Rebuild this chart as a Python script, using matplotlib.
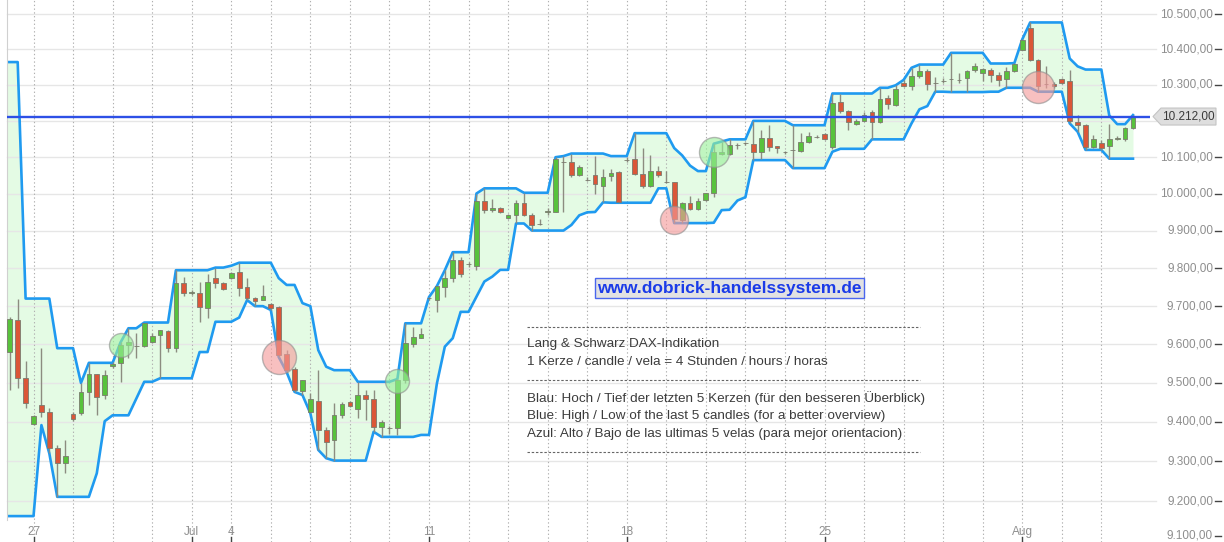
import matplotlib
matplotlib.use("Agg")
import matplotlib.pyplot as plt
import numpy as np
from matplotlib import transforms
from matplotlib.lines import Line2D
from matplotlib.patches import Polygon

# ---------------- data (4-hour candles, L&S DAX indication) ----------------
candle_open = [9581, 9664, 9512, 9394, 9443, 9425, 9333, 9295, 9420, 9422,
               9477, 9522, 9469, 9544, 9551, 9598, 9596, 9596, 9607, 9624,
               9636, 9590, 9760, 9735, 9734, 9696, 9774, 9760, 9774, 9789,
               9751, 9721, 9716, 9705, 9697, 9575, 9535, 9480, 9425, 9454,
               9379, 9354, 9418, 9450, 9432, 9469, 9459, 9388, 9384, 9384,
               9508, 9600, 9616, 9721, 9716, 9751, 9774, 9822, 9811, 9807,
               9981, 9956, 9961, 9934, 9944, 9974, 9943, 9919, 9950, 9951,
               10086, 10087, 10051, 10039, 10051, 10022, 10048, 10060, 10093, 10096,
               10053, 10021, 10063, 10033, 10031, 9929, 9976, 9959, 9983, 10003,
               10108, 10110, 10133, 10138, 10136, 10113, 10154, 10131, 10113, 10120,
               10118, 10143, 10156, 10163, 10127, 10252, 10226, 10191, 10200, 10225,
               10196, 10263, 10244, 10305, 10297, 10325, 10340, 10306, 10311, 10316,
               10315, 10318, 10341, 10332, 10341, 10327, 10316, 10340, 10399, 10459,
               10371, 10302, 10303, 10316, 10310, 10198, 10188, 10129, 10138, 10131,
               10149, 10149, 10180]
candle_high = [9671, 9718, 9557, 9418, 9590, 9435, 9341, 9354, 9425, 9500,
               9551, 9523, 9533, 9554, 9605, 9642, 9630, 9657, 9630, 9637,
               9638, 9795, 9778, 9742, 9765, 9784, 9802, 9765, 9791, 9815,
               9774, 9724, 9756, 9708, 9700, 9585, 9542, 9508, 9473, 9533,
               9388, 9448, 9452, 9453, 9503, 9482, 9482, 9405, 9390, 9510,
               9655, 9646, 9642, 9724, 9753, 9795, 9843, 9831, 9817, 10001,
               10015, 9986, 9964, 9946, 9983, 10003, 9949, 9933, 9962, 10100,
               10103, 10110, 10078, 10045, 10103, 10069, 10069, 10063, 10100, 10166,
               10125, 10105, 10077, 10062, 10033, 9978, 9994, 9988, 10003, 10137,
               10143, 10149, 10140, 10141, 10200, 10176, 10188, 10131, 10116, 10188,
               10166, 10170, 10161, 10166, 10276, 10276, 10230, 10205, 10224, 10230,
               10292, 10272, 10299, 10314, 10348, 10357, 10345, 10323, 10318, 10390,
               10332, 10341, 10360, 10347, 10346, 10336, 10350, 10361, 10428, 10476,
               10374, 10352, 10308, 10320, 10343, 10215, 10191, 10160, 10146, 10190,
               10158, 10184, 10216]
candle_low = [9482, 9486, 9435, 9392, 9412, 9320, 9211, 9270, 9402, 9417,
              9443, 9417, 9460, 9539, 9503, 9564, 9564, 9593, 9604, 9512,
              9581, 9580, 9727, 9729, 9659, 9670, 9749, 9743, 9772, 9727,
              9716, 9700, 9716, 9690, 9567, 9528, 9477, 9469, 9422, 9329,
              9308, 9302, 9409, 9438, 9409, 9405, 9375, 9362, 9370, 9367,
              9499, 9594, 9616, 9716, 9685, 9725, 9765, 9778, 9803, 9796,
              9947, 9951, 9947, 9931, 9920, 9941, 9901, 9916, 9942, 9950,
              9951, 10046, 10048, 10034, 9999, 9977, 10035, 9976, 10087, 10051,
              10015, 10019, 10046, 10030, 9921, 9922, 9956, 9957, 9982, 9991,
              10106, 10106, 10122, 10133, 10092, 10094, 10118, 10112, 10108, 10070,
              10115, 10140, 10152, 10146, 10123, 10221, 10175, 10189, 10200, 10149,
              10193, 10232, 10241, 10295, 10286, 10319, 10286, 10281, 10305, 10280,
              10304, 10281, 10336, 10311, 10308, 10297, 10292, 10336, 10397, 10367,
              10281, 10290, 10292, 10302, 10193, 10170, 10120, 10125, 10120, 10096,
              10147, 10145, 10177]
candle_close = [9665, 9512, 9448, 9415, 9425, 9333, 9297, 9314, 9407, 9477,
                9522, 9465, 9520, 9548, 9598, 9606, 9597, 9655, 9622, 9637,
                9591, 9760, 9734, 9736, 9699, 9763, 9760, 9745, 9787, 9749,
                9721, 9714, 9727, 9694, 9572, 9533, 9482, 9507, 9460, 9379,
                9350, 9418, 9446, 9442, 9469, 9459, 9388, 9399, 9384, 9508,
                9604, 9618, 9626, 9721, 9753, 9774, 9822, 9785, 9811, 9981,
                9957, 9961, 9950, 9943, 9974, 9944, 9917, 9919, 9954, 10096,
                10086, 10051, 10072, 10039, 10026, 10046, 10058, 9979, 10093, 10053,
                10021, 10062, 10051, 10033, 9932, 9976, 9959, 9981, 10003, 10115,
                10115, 10133, 10133, 10138, 10113, 10154, 10129, 10126, 10113, 10120,
                10143, 10158, 10156, 10149, 10249, 10226, 10196, 10200, 10216, 10196,
                10260, 10246, 10288, 10297, 10325, 10340, 10302, 10306, 10311, 10316,
                10315, 10338, 10353, 10344, 10327, 10315, 10338, 10359, 10427, 10371,
                10297, 10302, 10297, 10306, 10199, 10188, 10129, 10151, 10125, 10149,
                10153, 10180, 10212]

# blue channel: high / low of the last 5 candles (first value belongs to the candle before index 0)
band_high = [10364, 10364, 10364, 9720, 9720, 9720, 9720, 9590, 9590, 9590, 9500,
             9552, 9552, 9552, 9552, 9605, 9642, 9642, 9657, 9657, 9657,
             9657, 9795, 9795, 9795, 9795, 9795, 9802, 9802, 9807, 9815,
             9815, 9815, 9815, 9815, 9774, 9756, 9756, 9708, 9700, 9585,
             9542, 9533, 9533, 9533, 9503, 9503, 9503, 9503, 9503, 9510,
             9655, 9655, 9655, 9724, 9753, 9795, 9843, 9843, 9843, 10001,
             10015, 10015, 10015, 10015, 10015, 10003, 10003, 10003, 10003, 10100,
             10103, 10110, 10110, 10110, 10110, 10110, 10103, 10103, 10103, 10166,
             10166, 10166, 10166, 10166, 10125, 10105, 10077, 10062, 10062, 10137,
             10143, 10149, 10149, 10149, 10200, 10200, 10200, 10200, 10200, 10188,
             10188, 10188, 10188, 10188, 10276, 10276, 10276, 10276, 10276, 10276,
             10292, 10292, 10299, 10314, 10348, 10357, 10357, 10357, 10357, 10390,
             10390, 10390, 10390, 10390, 10360, 10360, 10360, 10361, 10428, 10476,
             10476, 10476, 10476, 10476, 10374, 10352, 10343, 10343, 10343, 10215,
             10191, 10191, 10216]
band_low = [9163, 9163, 9163, 9163, 9163, 9392, 9320, 9211, 9211, 9211, 9211,
            9211, 9270, 9402, 9417, 9417, 9417, 9460, 9503, 9503, 9512,
            9512, 9512, 9512, 9512, 9580, 9580, 9659, 9659, 9659, 9670,
            9716, 9700, 9700, 9690, 9567, 9528, 9477, 9469, 9422, 9329,
            9308, 9302, 9302, 9302, 9302, 9302, 9375, 9362, 9362, 9362,
            9362, 9362, 9367, 9367, 9499, 9594, 9616, 9685, 9685, 9725,
            9765, 9778, 9796, 9796, 9920, 9920, 9901, 9901, 9901, 9901,
            9901, 9916, 9942, 9950, 9951, 9977, 9976, 9976, 9976, 9976,
            9976, 9976, 10015, 10015, 9921, 9921, 9921, 9921, 9921, 9922,
            9956, 9957, 9982, 9991, 10092, 10092, 10092, 10092, 10092, 10070,
            10070, 10070, 10070, 10070, 10115, 10123, 10123, 10123, 10123, 10149,
            10149, 10149, 10149, 10149, 10193, 10232, 10241, 10281, 10281, 10280,
            10280, 10280, 10280, 10280, 10281, 10281, 10292, 10292, 10292, 10292,
            10281, 10281, 10281, 10281, 10193, 10170, 10120, 10120, 10120, 10096,
            10096, 10096, 10096]
band_first_index = -1

# signal circles
signal_index = [14, 34, 49, 84, 89, 130]
signal_value = [9598, 9567, 9505, 9929, 10114, 10295]
signal_kind = ["buy", "sell", "buy", "sell", "buy", "sell"]
signal_radius_px = [12, 17, 12, 14, 15, 16]

last_price = 10212
y_ticks = [9100, 9200, 9300, 9400, 9500, 9600, 9700, 9800, 9900, 10000,
           10100, 10300, 10400, 10500]
y_grid = [9200, 9300, 9400, 9500, 9600, 9700, 9800, 9900, 10000, 10100,
          10200, 10300, 10400, 10500]
day_start_index = [3 + 5 * k for k in range(28)]
x_tick_index = [3, 23, 28, 53, 78, 103, 128]
x_tick_label = ["27", "Jul", "4", "11", "18", "25", "Aug"]

info_lines = ["Lang & Schwarz DAX-Indikation",
              "1 Kerze / candle / vela = 4 Stunden / hours / horas",
              None,
              "Blau: Hoch / Tief der letzten 5 Kerzen (für den besseren Überblick)",
              "Blue: High / Low of the last 5 candles (for a better overview)",
              "Azul: Alto / Bajo de las ultimas 5 velas (para mejor orientacion)"]

# ---------------- figure ----------------
W, H = 1224, 542
FONT = "Liberation Sans"
plt.rcParams["font.family"] = [FONT, "DejaVu Sans"]
fig = plt.figure(figsize=(W / 100, H / 100), dpi=100)
fig.patch.set_facecolor("white")


def fx(px):
    return px / W


def fy(py):
    return 1 - py / H


ax = fig.add_axes([fx(6.7), 22 / H, (1150 - 6.7) / W, 520 / H])
ax.set_yscale("log")
ax.set_ylim(9153.3, 10540)
ax.set_xlim(-0.39, 144.15)
ax.set_facecolor("white")
for s in ["top", "right", "bottom"]:
    ax.spines[s].set_visible(False)
ax.spines["left"].set_color("#d0d0d0")
ax.spines["left"].set_linewidth(0.8)
ax.set_xticks([])
ax.set_yticks([])
ax.minorticks_off()
ax.yaxis.set_minor_locator(matplotlib.ticker.NullLocator())

GREEN = "#58c23c"
RED = "#db5638"
BAND = "#1f9af0"

# channel fill and lines
bx = np.arange(len(band_high)) + band_first_index
ax.fill_between(bx, band_low, band_high, color="#e4fbe4", lw=0, zorder=1)

# grid
for v in y_grid:
    ax.axhline(v, color="#e6e6e6", lw=1, zorder=1.5, xmax=1.005, clip_on=False)
for d in day_start_index:
    ax.axvline(d, ymin=-22 / 520, ymax=1, color="#b0b0b0", lw=0.8,
               linestyle=(0, (1.2, 2.2)), zorder=1.6, clip_on=False)

ax.plot(bx, band_high, color=BAND, lw=1.9, zorder=2.5, solid_joinstyle="round")
ax.plot(bx, band_low, color=BAND, lw=1.9, zorder=2.5, solid_joinstyle="round")

# candles
x = np.arange(len(candle_open))
o = np.array(candle_open, dtype=float)
c = np.array(candle_close, dtype=float)
up = c >= o
body_bottom = np.minimum(o, c)
body_height = np.abs(c - o)
ax.vlines(x, candle_low, candle_high, color="#8c8c80", lw=1.0, zorder=3)
ax.bar(x, body_height, bottom=body_bottom, width=0.6,
       color=np.where(up, GREEN, RED), edgecolor="#7a7a6e", linewidth=0.6,
       zorder=3.5)

# signal circles
for i, v, k, r in zip(signal_index, signal_value, signal_kind, signal_radius_px):
    fc = "#9af09a" if k == "buy" else "#f59a9a"
    ax.scatter([i], [v], s=(2 * r * 0.72) ** 2, facecolor=fc, edgecolor="#8f8f8f",
               linewidth=1.0, alpha=0.62, zorder=4)

# last price line
ax.axhline(last_price, color="#2d50e6", lw=1.7, zorder=5)

# y labels on the right (label followed by tick mark)
ty = transforms.blended_transform_factory(fig.transFigure, ax.transData)


def de_fmt(v):
    s = f"{v:,.2f}"
    return s.replace(",", "X").replace(".", ",").replace("X", ".")


for v in y_ticks:
    ypx = ax.transData.transform((0, v))[1]          # pixels from bottom
    ypx = max(ypx, 6.5)                               # keep the lowest label inside
    ypos = ypx / H
    fig.text(fx(1213), ypos, de_fmt(v), ha="right", va="center",
             color="#8e8e8e", fontsize=8.5, family=FONT)
    fig.add_artist(Line2D([fx(1215), fx(1221)], [ypos, ypos],
                          transform=fig.transFigure, color="#444444", lw=1))

# price label box
py = ax.transData.transform((0, last_price))[1]
pyf = py / H
hh = 8.5 / H
poly = Polygon([(fx(1153), pyf), (fx(1161), pyf + hh), (fx(1216), pyf + hh),
                (fx(1216), pyf - hh), (fx(1161), pyf - hh)], closed=True,
               transform=fig.transFigure, facecolor="#dedede", edgecolor="#c4c4c4",
               lw=0.8, zorder=6)
fig.add_artist(poly)
fig.text(fx(1188), pyf, de_fmt(last_price), ha="center", va="center",
         color="#3a3a3a", fontsize=8.5, family=FONT, zorder=7)

# x labels
tx = transforms.blended_transform_factory(ax.transData, fig.transFigure)
for i, lab in zip(x_tick_index, x_tick_label):
    fig.text(i, fy(532), lab, transform=tx, ha="center", va="center",
             color="#8e8e8e", fontsize=8.5, family=FONT)
    fig.add_artist(Line2D([i, i], [fy(537), fy(542)], transform=tx,
                          color="#444444", lw=1))

# website box
fig.text(fx(729.5), fy(288), "www.dobrick-handelssystem.de", ha="center",
         va="center", color="#1b3be8", fontsize=12.5, fontweight="bold", family=FONT,
         bbox=dict(boxstyle="square,pad=0.12", facecolor="#e2e2e2",
                   edgecolor="#4a66ee", lw=1.0), zorder=8)

# info text block
for yy in (327, 380, 452):
    fig.add_artist(Line2D([fx(527), fx(920)], [fy(yy), fy(yy)],
                          transform=fig.transFigure, color="#666666", lw=0.8,
                          linestyle=(0, (2.2, 1.6))))
line_y = [344, 362, None, 398, 415.5, 433.5]
for txt, yy in zip(info_lines, line_y):
    if txt is None:
        continue
    fig.text(fx(527), fy(yy), txt, ha="left", va="center", color="#3c3c3c",
             fontsize=9.7, family=FONT)

fig.savefig("out.png", dpi=100, facecolor="white")
